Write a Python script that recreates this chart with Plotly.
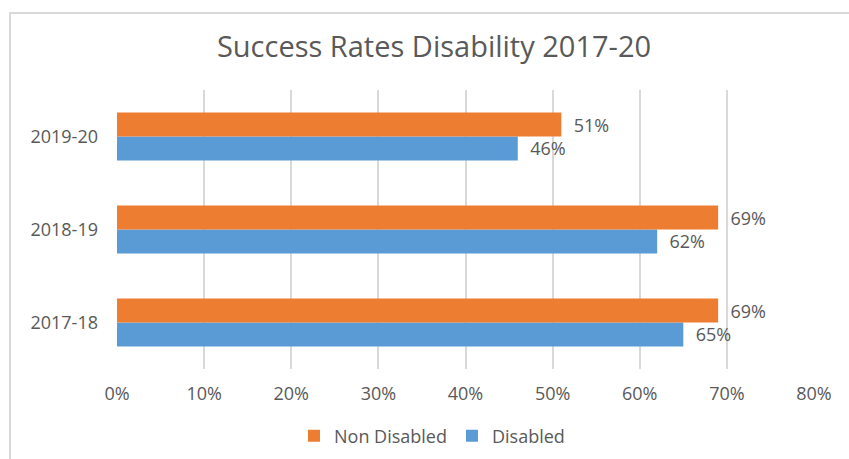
import plotly.graph_objects as go

categories = ["2017-18", "2018-19", "2019-20"]
non_disabled = [69, 69, 51]
disabled = [65, 62, 46]
tick_values = [0, 10, 20, 30, 40, 50, 60, 70, 80]
tick_labels = ["0%", "10%", "20%", "30%", "40%", "50%", "60%", "70%", "80%"]

FONT = "'Open Sans', Lato, sans-serif"
GREY = "#595959"
LBL = 18

fig = go.Figure()
fig.add_trace(go.Bar(
    y=categories, x=disabled, name="Disabled", orientation="h",
    marker=dict(color="#5B9BD5", line=dict(width=0)),
    texttemplate="  %{x}%", textposition="outside",
    textfont=dict(color=GREY, size=LBL, family=FONT), cliponaxis=False,
))
fig.add_trace(go.Bar(
    y=categories, x=non_disabled, name="Non Disabled", orientation="h",
    marker=dict(color="#ED7D31", line=dict(width=0)),
    texttemplate="  %{x}%", textposition="outside",
    textfont=dict(color=GREY, size=LBL, family=FONT), cliponaxis=False,
))

L, R, T, B = 117, 35, 90, 90
W, H = 849, 459
pw, ph = W - L - R, H - T - B

fig.update_layout(
    width=W, height=H,
    margin=dict(l=L, r=R, t=T, b=B),
    paper_bgcolor="white", plot_bgcolor="white",
    barmode="group", bargap=0.484, bargroupgap=0,
    font=dict(family=FONT, color=GREY, size=LBL),
    title=dict(text="Success Rates Disability 2017-20", x=434 / W, xanchor="center",
               xref="container", y=1 - 47 / H, yanchor="middle", yref="container",
               font=dict(size=29, color=GREY, family=FONT)),
    xaxis=dict(range=[0, 80], tickvals=tick_values, ticktext=tick_labels,
               showgrid=True, gridcolor="#d9d9d9", gridwidth=1.5,
               zeroline=False, showline=False, ticks="",
               tickfont=dict(size=LBL, color=GREY), ticklabelstandoff=12),
    yaxis=dict(showgrid=False, zeroline=False, showline=False, ticks="",
               tickfont=dict(size=LBL, color=GREY), ticklabelstandoff=18),
    legend=dict(orientation="h", traceorder="reversed", xref="container", yref="container",
                x=432 / W, xanchor="center", y=1 - 436 / H, yanchor="middle",
                font=dict(size=LBL, color=GREY), itemwidth=30),
    showlegend=True,
)

# light grey chart border (partially off-canvas, as in the reference)
fig.add_shape(type="rect", xref="paper", yref="paper",
              x0=(10 - L) / pw, x1=(W + 20 - L) / pw,
              y0=(H - T - (H + 20)) / ph, y1=(H - B - 13) / ph,
              line=dict(color="#d9d9d9", width=2), fillcolor="rgba(0,0,0,0)", layer="below")

fig.write_html("out.html", config={"displayModeBar": False},
               post_script="document.body.style.margin='0';document.body.style.padding='0';")
